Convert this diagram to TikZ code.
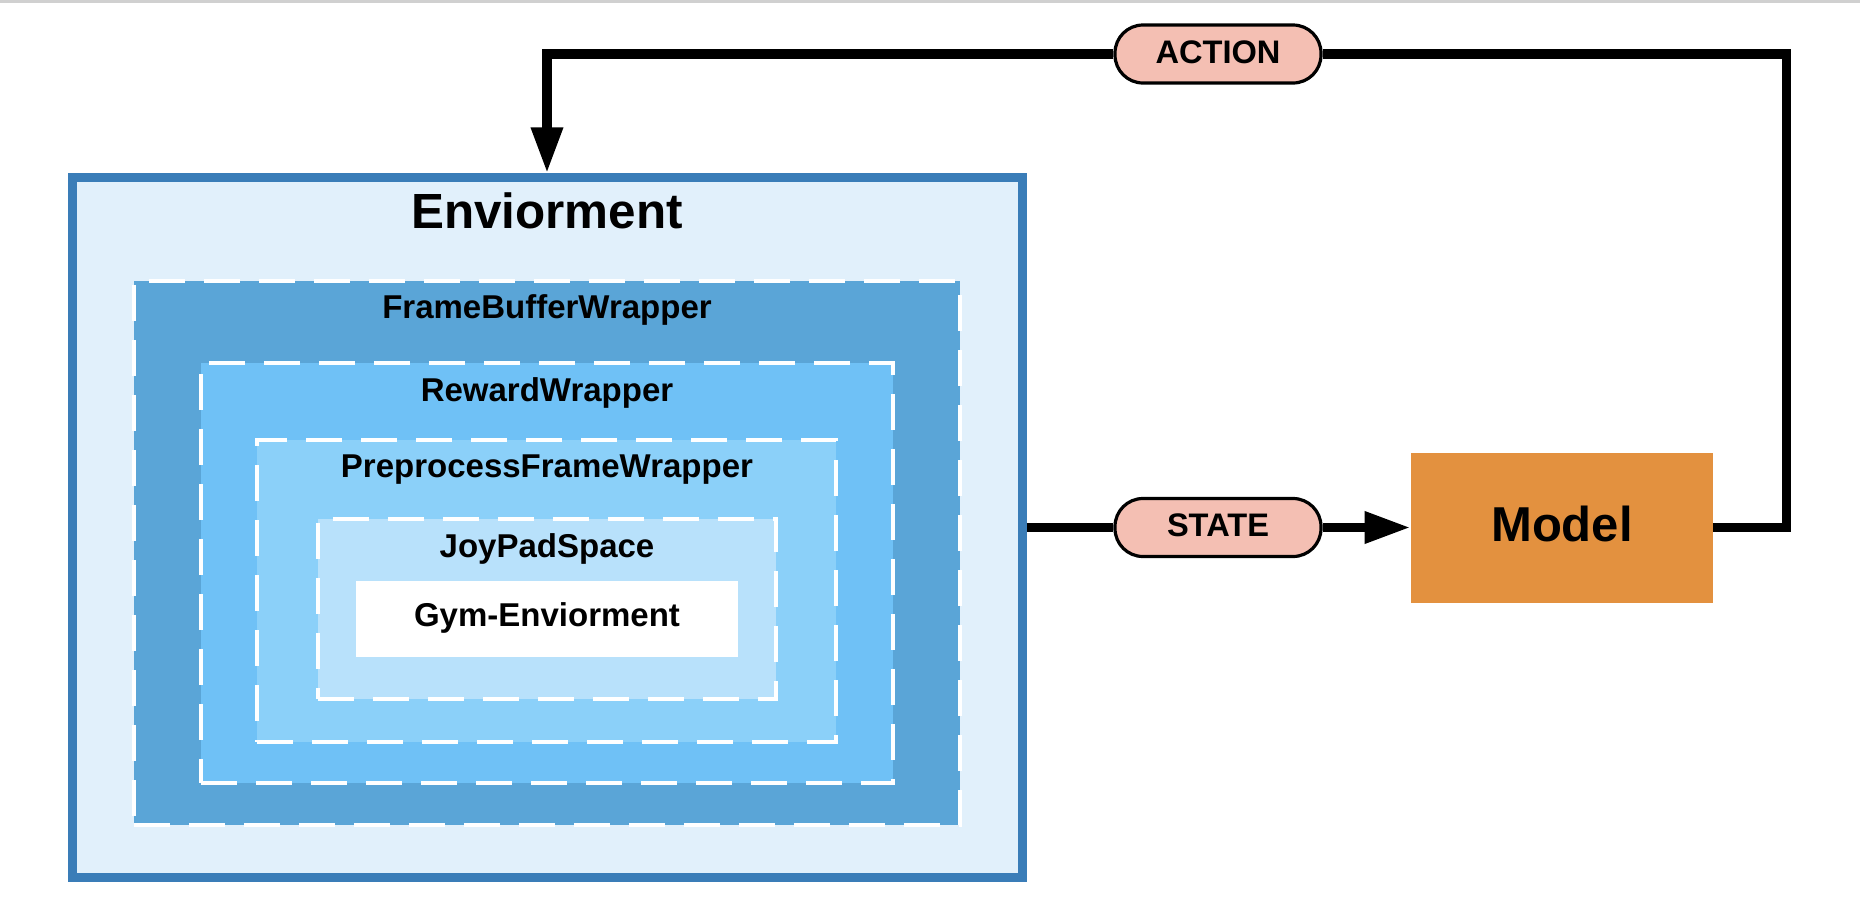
\documentclass[tikz,border=0pt]{standalone}
\usepackage{fontspec}
\setmainfont{Liberation Sans}
\usetikzlibrary{arrows.meta}
\definecolor{topline}{HTML}{D0D0D0}
\definecolor{envfill}{HTML}{E1F0FB}
\definecolor{envborder}{HTML}{3A7DB8}
\definecolor{fbfill}{HTML}{5AA5D7}
\definecolor{rwfill}{HTML}{6FC1F6}
\definecolor{ppfill}{HTML}{8BD0F9}
\definecolor{jpfill}{HTML}{B8E1FB}
\definecolor{pillfill}{HTML}{F4BFB3}
\definecolor{modelfill}{HTML}{E3913F}
\begin{document}
\begin{tikzpicture}[x=0.5pt,y=-0.5pt,
  wrapbox/.style={rectangle, inner sep=0pt, outer sep=0pt, draw=white, line width=1.75pt, dash pattern=on 18pt off 9.5pt},
  lbl/.style={anchor=base, font=\fontsize{16.5}{20}\selectfont\bfseries, inner sep=0pt},
  pill/.style={draw=black, line width=1.6pt, fill=pillfill, rounded corners=14pt, minimum width=103pt, minimum height=29pt, inner sep=0pt, text height=11.5pt, text depth=2.5pt, font=\fontsize{16.3}{19}\selectfont\bfseries},
  conn/.style={line width=4.8pt, black},
  tipend/.style={-{Triangle[length=23pt,width=15pt]}}
]
\useasboundingbox (0,0) rectangle (1860,906);
\fill[topline] (0,0) rectangle (1860,2.5);

% Environment box
\node[rectangle, draw=envborder, fill=envfill, line width=4.5pt, inner sep=0pt,
      minimum width=475pt, minimum height=349.75pt] (env) at (547,527.5) {};
\node[anchor=base, inner sep=0pt, font=\fontsize{24.7}{29}\selectfont\bfseries] (envlbl) at (547,228) {Enviorment};

% Wrappers
\node[wrapbox, fill=fbfill, minimum width=413pt, minimum height=272pt] (fb) at (547,553) {};
\node[lbl] (fblbl) at (547,318) {FrameBufferWrapper};
\node[wrapbox, fill=rwfill, minimum width=346pt, minimum height=210pt] (rw) at (547,573) {};
\node[lbl] (rwlbl) at (547,401) {RewardWrapper};
\node[wrapbox, fill=ppfill, minimum width=289.5pt, minimum height=151pt] (pp) at (546.5,591) {};
\node[lbl] (pplbl) at (547,477) {PreprocessFrameWrapper};
\node[wrapbox, fill=jpfill, minimum width=229pt, minimum height=90pt] (jp) at (547,609) {};
\node[lbl] (jplbl) at (547,557) {JoyPadSpace};
\node[rectangle, fill=white, inner sep=0pt, minimum width=191pt, minimum height=38pt] (gym) at (547,619) {};
\node[lbl] (gymlbl) at (547,626) {Gym-Enviorment};

% Model
\node[rectangle, fill=modelfill, inner sep=0pt, minimum width=151pt, minimum height=75pt,
      text height=17.9pt, text depth=4pt, font=\fontsize{24.5}{29}\selectfont\bfseries] (model) at (1562,527.5) {Model};

% Pills
\node[pill] (state) at (1218,527.5) {STATE};
\node[pill] (action) at (1218,54) {ACTION};

% Connectors
\coordinate (c1) at (1786.5,527.5);
\coordinate (c2) at (1786.5,54);
\draw[conn] (env.east) -- (state.west);
\draw[conn, tipend] (state.east) -- (model.west);
\draw[conn] (model.east) -- (c1) -- (c2) -- (action.east);
\draw[conn, tipend] (action.west) -| (env.north);
\end{tikzpicture}
\end{document}
